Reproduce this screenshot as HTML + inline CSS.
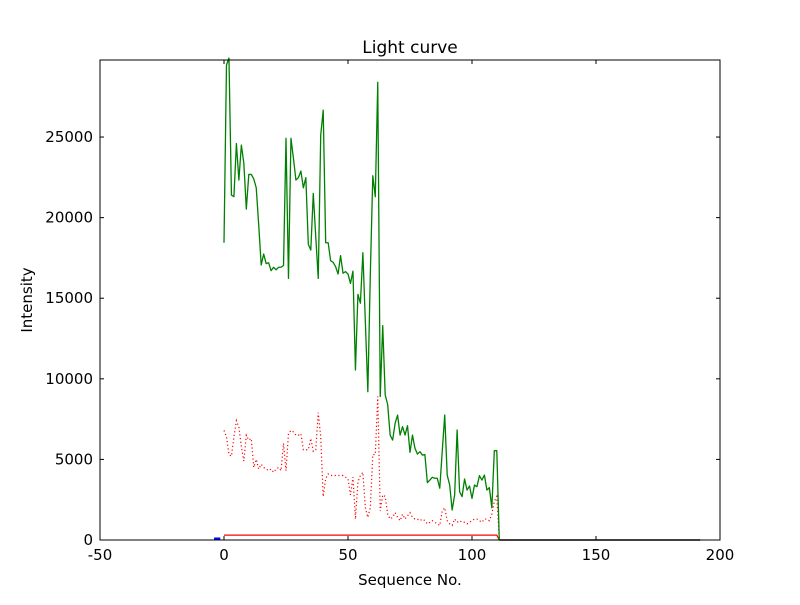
<!DOCTYPE html>
<html><head><meta charset="utf-8"><style>
body{margin:0;background:#fff;}
svg text{font-family:"DejaVu Sans","Liberation Sans",sans-serif;fill:#000;}
</style></head><body>
<svg id="chart" width="800" height="600" viewBox="0 0 800 600">
<rect x="0" y="0" width="800" height="600" fill="#fff"/>
<text x="410" y="53" font-size="17" text-anchor="middle">Light curve</text>
<text x="410" y="585" font-size="15" text-anchor="middle">Sequence No.</text>
<text x="32" y="300" font-size="15" text-anchor="middle" transform="rotate(-90 32 300)">Intensity</text>
<g id="plot"></g>
<rect x="100" y="60" width="620" height="480" fill="none" stroke="#000" stroke-width="1"/>
</svg>
<script>
const xTicks=[-50,0,50,100,150,200];
const yTicks=[0,5000,10000,15000,20000,25000];
const greenSeries=[18440,29470,29900,21400,21300,24600,22330,24500,23370,20530,22680,22680,22400,21850,19540,17060,17740,17150,17200,16710,16920,16760,16920,16920,17030,24920,16230,24920,23680,22330,22480,22890,21850,22480,18340,17990,21500,18810,16230,25120,26670,18440,18440,17330,17230,16960,16500,17640,16550,16650,16500,15920,16680,10550,15240,14690,17820,13500,9200,16500,22600,21300,28400,8900,13300,9000,8400,6500,6200,7240,7750,6510,7030,6510,7090,5440,6510,5690,5330,5480,5270,5300,3560,3720,3890,3830,3830,3210,5500,7750,4030,3410,1860,2790,6820,3000,2690,3780,3100,3350,2580,3410,3310,3990,3720,4030,3100,3250,2000,5540,5540,0];
const redDotted=[6800,6400,5300,5200,6400,7400,7000,5800,4900,6500,6200,6300,4500,5000,4400,4700,4500,4400,4300,4400,4200,4400,4500,4300,6000,4300,6600,6800,6700,6500,6500,6600,5600,5600,5600,6300,5500,5600,7900,6400,2700,3800,4100,4000,4000,4000,4000,4000,4000,3900,3800,2800,3900,1300,3600,4000,4200,2000,1400,2000,5300,5300,8900,1800,2800,2700,1600,1300,1400,1700,1400,1200,1600,1300,1500,1700,1400,1300,1300,1200,1300,1200,1000,1100,1200,1100,1000,900,1800,2000,1200,1000,900,1300,1100,1200,1100,1100,1000,1100,1200,1300,1300,1200,1100,1300,1300,1200,1600,2400,2700,0];
const redSolidLevel=300;
const redSolidEnd=111;
const blackEnd=192;
const X0=100,X1=720,Y0=540,Y1=60,XMIN=-50,XMAX=200,YMIN=0,YMAX=29780;
function sx(v){return X0+(v-XMIN)/(XMAX-XMIN)*(X1-X0);}
function sy(v){return Y0-(v-YMIN)/(YMAX-YMIN)*(Y0-Y1);}
const NS='http://www.w3.org/2000/svg';
const plot=document.getElementById('plot');
function el(tag,attrs){const e=document.createElementNS(NS,tag);for(const k in attrs)e.setAttribute(k,attrs[k]);plot.appendChild(e);return e;}
function path(vals,startIdx){return vals.map((v,i)=>(i?'L':'M')+sx(i+startIdx).toFixed(2)+','+sy(v).toFixed(2)).join(' ');}
// ticks
xTicks.forEach(t=>{
  const x=sx(t);
  const a=el('line',{x1:x,y1:Y0,x2:x,y2:Y0-4,stroke:'#000'});
  
  
  const b=el('line',{x1:x,y1:Y1,x2:x,y2:Y1+4,stroke:'#000'});
  
  
  const l=el('text',{x:x,y:Y0+20,'font-size':15,'text-anchor':'middle'});
  l.textContent=t;
  
  
});
yTicks.forEach(t=>{
  const y=sy(t);
  const a=el('line',{x1:X0,y1:y,x2:X0+4,y2:y,stroke:'#000'});
  
  
  const b=el('line',{x1:X1,y1:y,x2:X1-4,y2:y,stroke:'#000'});
  
  
  const l=el('text',{x:X0-7,y:y+5,'font-size':15,'text-anchor':'end'});
  l.textContent=t;
  
  
});
// black zero line
const bl=el('line',{x1:sx(redSolidEnd),y1:sy(0),x2:sx(blackEnd),y2:sy(0),stroke:'#000','stroke-width':1.5});


// red solid
const rsVals=[];for(let i=0;i<redSolidEnd;i++)rsVals.push(redSolidLevel);rsVals.push(0);
const rs=el('path',{d:path(rsVals,0),fill:'none',stroke:'#ff0000','stroke-width':1.2});


// red dotted
const rd=el('path',{d:path(redDotted,0),fill:'none',stroke:'#ff0000','stroke-width':1.2,'stroke-dasharray':'1.2,2.5'});


// green
const g=el('path',{d:path(greenSeries,0),fill:'none',stroke:'#008000','stroke-width':1.3,'stroke-linejoin':'round'});


// blue marker
const bm=el('line',{x1:sx(-4),y1:sy(0)-1,x2:sx(-1.5),y2:sy(0)-1,stroke:'#0000ff','stroke-width':3});


</script>
</body></html>
